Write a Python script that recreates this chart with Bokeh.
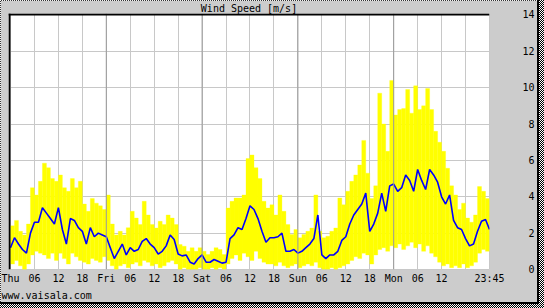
from bokeh.plotting import figure
from bokeh.models import FixedTicker, CustomJSTickFormatter, Span, Title, Range1d, ColumnDataSource
from bokeh.layouts import column
from bokeh.embed import file_html
from bokeh.resources import INLINE

# ---- data (hours since Thu 00:00) ----
avg_speed = [1.2, 1.75, 1.4, 1.1, 0.9, 2.0, 2.6, 2.6, 3.4, 3.1,
             2.8, 2.5, 3.4, 2.2, 1.4, 2.8, 2.7, 2.3, 2.1, 1.4,
             2.3, 1.8, 2.0, 1.9, 1.8, 1.2, 0.6, 1.0, 1.4, 0.8,
             1.2, 1.0, 1.1, 1.55, 1.7, 1.4, 1.2, 0.85, 1.0, 1.3,
             1.9, 1.65, 0.85, 0.75, 0.8, 0.4, 0.3, 0.6, 0.8, 0.4,
             0.4, 0.55, 0.45, 0.35, 0.4, 1.7, 1.9, 2.3, 2.2, 2.8,
             3.5, 3.3, 2.8, 2.1, 1.5, 1.75, 1.75, 1.8, 2.0, 1.0,
             1.0, 1.1, 0.9, 1.0, 1.2, 1.4, 1.7, 3.0, 0.8, 0.6,
             0.8, 0.8, 1.0, 1.6, 1.8, 2.5, 3.0, 3.3, 3.6, 4.2,
             2.1, 2.5, 3.1, 4.2, 3.2, 4.6, 4.7, 4.3, 4.5, 5.2,
             4.9, 4.3, 5.5, 4.9, 4.4, 5.5, 5.2, 4.8, 4.0, 3.6,
             4.1, 2.7, 2.3, 2.2, 1.7, 1.3, 1.4, 2.1, 2.65, 2.75,
             2.2]

max_speed = [2.4, 2.7, 2.1, 1.9, 2.5, 4.5, 4.1, 4.85, 5.85, 5.6,
             5.0, 4.85, 5.2, 4.5, 4.3, 5.0, 4.5, 4.85, 3.6, 3.2,
             3.9, 3.65, 3.5, 3.3, 4.1, 2.5, 1.9, 2.1, 1.9, 2.3,
             3.2, 2.83, 2.47, 3.75, 3.0, 2.47, 2.28, 2.65, 2.47, 3.0,
             2.83, 2.47, 1.37, 1.28, 1.0, 1.2, 1.0, 1.2, 1.0, 0.82,
             1.0, 1.2, 1.1, 0.82, 3.38, 3.75, 3.93, 3.93, 4.1, 6.1,
             6.3, 5.6, 5.0, 3.75, 3.38, 3.56, 3.0, 4.1, 3.2, 2.47,
             1.92, 2.2, 1.74, 1.92, 2.1, 2.28, 4.1, 2.1, 1.74, 1.83,
             2.1, 2.28, 3.93, 3.56, 4.3, 4.85, 5.2, 5.75, 7.1, 5.3,
             3.9, 4.6, 9.7, 8.0, 6.5, 10.4, 8.5, 8.8, 8.85, 9.9,
             8.6, 10.1, 8.8, 9.0, 9.95, 8.8, 7.6, 7.0, 6.5, 5.57,
             4.6, 4.1, 3.3, 3.65, 2.83, 2.6, 3.0, 4.56, 4.3, 3.9]

min_speed = [0.3, 0.5, 0.2, 0.0, 0.3, 0.8, 1.0, 0.9, 0.8, 0.6,
             0.9, 0.5, 0.9, 0.6, 0.3, 0.9, 0.7, 0.5, 0.4, 0.3,
             0.6, 0.5, 0.4, 0.7, 0.5, 0.2, 0.0, 0.2, 0.3, 0.1,
             0.3, 0.4, 0.2, 0.5, 0.4, 0.2, 0.3, 0.1, 0.2, 0.4,
             0.5, 0.3, 0.0, 0.1, 0.0, 0.0, 0.0, 0.1, 0.0, 0.0,
             0.1, 0.0, 0.1, 0.0, 0.3, 0.6, 0.8, 0.5, 0.9, 0.7,
             0.5, 1.0, 0.6, 0.4, 0.3, 0.3, 0.2, 0.4, 0.2, 0.1,
             0.2, 0.3, 0.1, 0.2, 0.3, 0.2, 0.4, 0.1, 0.0, 0.0,
             0.1, 0.0, 0.1, 0.2, 0.3, 0.5, 0.7, 0.6, 0.9, 0.8,
             0.3, 0.8, 1.1, 1.2, 1.0, 1.3, 1.2, 1.4, 1.1, 1.3,
             1.5, 1.2, 1.4, 1.0, 1.3, 0.9, 0.7, 0.4, 0.2, 0.3,
             0.1, 0.2, 0.1, 0.3, 0.1, 0.2, 0.4, 0.9, 1.1, 1.0]

tick_hours = [0, 6, 12, 18, 24, 30, 36, 42, 48, 54, 60, 66, 72, 78, 84, 90, 96, 102, 108, 120]
tick_labels = ["Thu", "06", "12", "18", "Fri", "06", "12", "18", "Sat", "06", "12", "18",
               "Sun", "06", "12", "18", "Mon", "06", "12", "23:45"]
grid_hours = list(range(0, 121, 6))
day_hours = [24, 48, 72, 96]
y_ticks = [0, 2, 4, 6, 8, 10, 12, 14]

title_text = "Wind Speed [m/s]"
footer_text = "www.vaisala.com"

FONT = "DejaVu Sans Mono"
BG = "#CCCCCC"
GRID = "#C8C8C8"

hours = list(range(len(avg_speed)))
bins = ColumnDataSource(dict(
    x=[h + 0.5 for h in range(len(max_speed))],
    top=max_speed,
    bottom=min_speed,
))

p = figure(width=537, height=302,
           x_range=Range1d(-0.5, 120), y_range=Range1d(0, 14.08),
           output_backend="svg", toolbar_location=None,
           y_axis_location="right",
           min_border_left=8, min_border_right=47,
           min_border_top=13, min_border_bottom=32,
           background_fill_color="white", border_fill_color=BG,
           outline_line_color=GRID)

p.title.text = title_text
p.title.align = "center"
p.title.text_font = FONT
p.title.text_font_size = "10px"
p.title.text_font_style = "normal"
p.title.text_color = "black"
p.title.standoff = 0
p.title.offset = 0

footer = Title(text=footer_text, align="left", offset=-7, standoff=3,
               text_font=FONT, text_font_size="10px", text_font_style="normal",
               text_color="black")
p.add_layout(footer, "below")

p.vbar(x="x", width=1, top="top", bottom="bottom", source=bins,
       fill_color="#FFFF00", line_color="#FFFF00", line_width=0.3)
p.line(hours, avg_speed, line_color="#0000FF", line_width=1.6)

# axes
p.xaxis.ticker = FixedTicker(ticks=tick_hours)
p.xaxis.major_label_overrides = {h: lab for h, lab in zip(tick_hours, tick_labels)}
p.xgrid.ticker = FixedTicker(ticks=grid_hours)
p.yaxis.ticker = FixedTicker(ticks=y_ticks)
p.ygrid.ticker = FixedTicker(ticks=y_ticks)
p.yaxis.formatter = CustomJSTickFormatter(
    code="return (tick < 10 ? '\\u00a0' : '') + tick.toFixed(0);")

for ax in (p.xaxis[0], p.yaxis[0]):
    ax.axis_line_color = None
    ax.major_tick_line_color = None
    ax.minor_tick_line_color = None
    ax.major_tick_out = 0
    ax.major_tick_in = 0
    ax.major_label_text_font = FONT
    ax.major_label_text_font_size = "10px"
    ax.major_label_text_color = "black"
p.xaxis.major_label_standoff = 3
p.yaxis.major_label_standoff = 33

p.xgrid.grid_line_color = GRID
p.ygrid.grid_line_color = GRID

for d in day_hours:
    p.add_layout(Span(location=d, dimension="height", line_color="#999999", line_width=1))

# inset frame edges (dark top/left)
p.add_layout(Span(location=-0.25, dimension="height", line_color="black", line_width=2))
p.add_layout(Span(location=14.025, dimension="width", line_color="black", line_width=2))

bg = ("linear-gradient(#000,#000) 537px 0/2px 304px no-repeat, "
      "linear-gradient(#000,#000) 0 302px/539px 2px no-repeat, "
      "repeating-conic-gradient(#000 0% 25%, #fff 0% 50%) 0 0/2px 2px")
lay = column(p, width=544, height=308, styles={"background": bg})

open("out.html", "w").write(file_html(lay, INLINE))
